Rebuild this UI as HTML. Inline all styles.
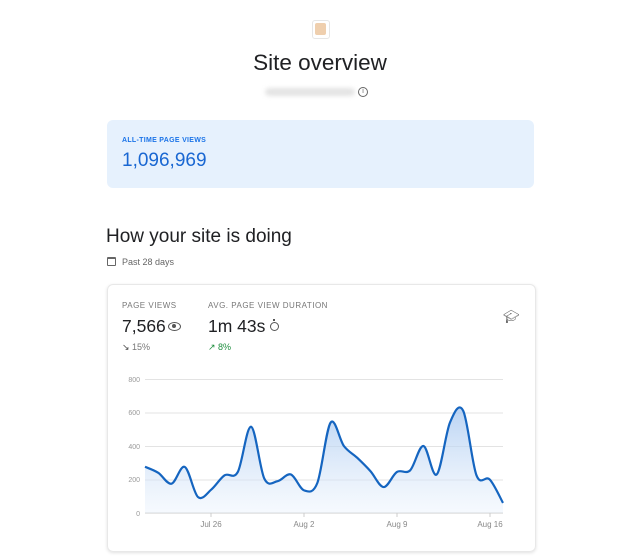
<!DOCTYPE html>
<html><head><meta charset="utf-8"><style>
body{margin:0;width:640px;height:559px;background:#fff;font-family:"Liberation Sans",sans-serif;position:relative;overflow:hidden}
.a{position:absolute;white-space:nowrap}
</style></head><body>
<div class="a" style="left:312px;top:20px;width:16px;height:17px;border:1px solid #e6e6e6;border-radius:3px;background:#fff"></div>
<div class="a" style="left:315px;top:23px;width:11px;height:12px;background:#efcfae;border-radius:2px"></div>
<div class="a" style="left:0;width:640px;text-align:center;top:50px;font-size:22.5px;color:#202124">Site overview</div>
<div class="a" style="left:265px;top:88px;width:90px;height:8px;background:#e4e4e4;border-radius:4px;filter:blur(2px)"></div>
<div class="a" style="left:358px;top:87px;width:8px;height:8px;border:1px solid #666;border-radius:50%;font-size:7px;line-height:8px;text-align:center;color:#666">i</div>
<div class="a" style="left:107px;top:120px;width:427px;height:68px;background:#e6f1fd;border-radius:6px"></div>
<div class="a" style="left:122px;top:137px;font-size:7px;font-weight:bold;color:#1a73e8;letter-spacing:0.3px">ALL-TIME PAGE VIEWS</div>
<div class="a" style="left:122px;top:150px;font-size:19px;color:#1967d2">1,096,969</div>
<div class="a" style="left:106px;top:226px;font-size:19px;color:#202124">How your site is doing</div>
<div class="a" style="left:107px;top:257px;width:7px;height:6px;border:1px solid #666;border-top-width:2px;border-radius:1px"></div>
<div class="a" style="left:122px;top:257px;font-size:9px;color:#666">Past 28 days</div>
<div class="a" style="left:107px;top:284px;width:427px;height:266px;border:1px solid #e8e8e8;border-radius:6px;box-shadow:0 1px 3px rgba(0,0,0,0.12)"></div>
<div class="a" style="left:122px;top:301px;font-size:8px;color:#777;letter-spacing:0.5px">PAGE VIEWS</div>
<div class="a" style="left:208px;top:301px;font-size:8px;color:#777;letter-spacing:0.5px">AVG. PAGE VIEW DURATION</div>
<div class="a" style="left:122px;top:316px;font-size:17.5px;color:#202124">7,566</div>
<div class="a" style="left:168px;top:322px;width:11px;height:7px;border:1px solid #555;border-radius:50%"></div>
<div class="a" style="left:172px;top:324px;width:4px;height:4px;background:#555;border-radius:50%"></div>
<div class="a" style="left:208px;top:316px;font-size:17.5px;color:#202124">1m 43s</div>
<div class="a" style="left:270px;top:322px;width:7px;height:7px;border:1px solid #555;border-radius:50%"></div>
<div class="a" style="left:273px;top:319px;width:2px;height:2px;background:#555"></div>
<div class="a" style="left:122px;top:342px;font-size:9px;color:#777"><span style="color:#444">↘</span> 15%</div>
<div class="a" style="left:208px;top:342px;font-size:9px;color:#1e8e3e">↗ 8%</div>
<div class="a" style="left:503px;top:309px;font-size:13px;color:#666">🎓︎</div>
<svg class="a" style="left:0;top:0" width="640" height="559">
<defs><linearGradient id="g" x1="0" y1="0" x2="0" y2="1"><stop offset="0" stop-color="#a8c8f0" stop-opacity="0.8"/><stop offset="1" stop-color="#e8f1fc" stop-opacity="0.4"/></linearGradient></defs>
<g stroke="#e3e3e3" stroke-width="1">
<line x1="145" x2="503" y1="379.5" y2="379.5"/><line x1="145" x2="503" y1="413" y2="413"/><line x1="145" x2="503" y1="446.5" y2="446.5"/><line x1="145" x2="503" y1="480" y2="480"/></g>
<line x1="145" x2="503" y1="513" y2="513" stroke="#ccc"/>
<g stroke="#ccc"><line x1="211" x2="211" y1="513" y2="517"/><line x1="304" x2="304" y1="513" y2="517"/><line x1="397" x2="397" y1="513" y2="517"/><line x1="490" x2="490" y1="513" y2="517"/></g>
<g font-size="7" fill="#999" font-family="Liberation Sans,sans-serif" text-anchor="end">
<text x="140" y="382">800</text><text x="140" y="415">600</text><text x="140" y="449">400</text><text x="140" y="482">200</text><text x="140" y="516">0</text></g>
<g font-size="8" fill="#888" font-family="Liberation Sans,sans-serif" text-anchor="middle">
<text x="211" y="527">Jul 26</text><text x="304" y="527">Aug 2</text><text x="397" y="527">Aug 9</text><text x="490" y="527">Aug 16</text></g>
<path id="area" fill="url(#g)"/>
<path id="line" fill="none" stroke="#1565c0" stroke-width="2.2"/>
</svg>
<script>
var v=[276,240,175,275,95,140,225,245,515,205,190,230,135,180,540,400,330,250,155,245,255,400,230,540,610,225,200,60];
var p=v.map(function(d,i){return [145+i*(358/27),513-d*134/800];});
var s="M"+p[0][0]+","+p[0][1];
for(var i=0;i<p.length-1;i++){var p0=p[Math.max(0,i-1)],p1=p[i],p2=p[i+1],p3=p[Math.min(p.length-1,i+2)];
var t=6;s+=" C"+(p1[0]+(p2[0]-p0[0])/t)+","+(p1[1]+(p2[1]-p0[1])/t)+" "+(p2[0]-(p3[0]-p1[0])/t)+","+(p2[1]-(p3[1]-p1[1])/t)+" "+p2[0]+","+p2[1];}
document.getElementById("line").setAttribute("d",s);
document.getElementById("area").setAttribute("d",s+" L503,513 L145,513 Z");
</script>
</body></html>
